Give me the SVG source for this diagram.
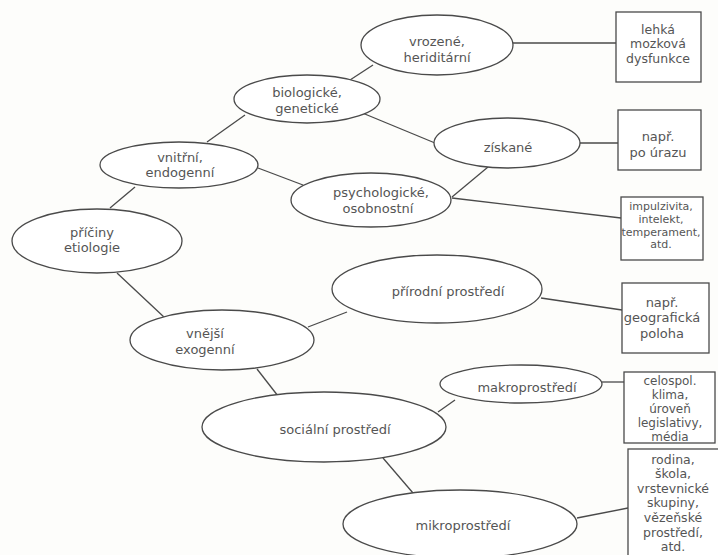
<svg xmlns="http://www.w3.org/2000/svg" width="718" height="555" viewBox="0 0 718 555">
<style>
  .bg { fill: #fdfdfb; }
  .n ellipse, .n rect { fill: #ffffff; stroke: #4a4a4a; stroke-width: 1.3; }
  .c line { stroke: #4a4a4a; stroke-width: 1.3; }
  text { font-family: "DejaVu Sans", "Liberation Sans", sans-serif; fill: #555555; text-anchor: middle; }
  .e { font-size: 13px; }
  .b13 { font-size: 13px; }
  .b125 { font-size: 12.5px; }
  .b12 { font-size: 12px; }
  .s { font-size: 11px; }
</style>
<rect class="bg" x="0" y="0" width="718" height="555"/>
<g id="connectors" class="c">
  <line x1="110" y1="208" x2="135" y2="187"/>
  <line x1="117" y1="273" x2="165" y2="318"/>
  <line x1="207" y1="142" x2="245" y2="115"/>
  <line x1="258" y1="168" x2="303" y2="185"/>
  <line x1="350" y1="80" x2="373" y2="65"/>
  <line x1="360" y1="112" x2="435" y2="143"/>
  <line x1="513" y1="43" x2="616" y2="43"/>
  <line x1="580" y1="143" x2="618" y2="143"/>
  <line x1="452" y1="197" x2="488" y2="167"/>
  <line x1="452" y1="198" x2="621" y2="218"/>
  <line x1="308" y1="327" x2="347" y2="312"/>
  <line x1="257" y1="369" x2="278" y2="396"/>
  <line x1="541" y1="298" x2="622" y2="310"/>
  <line x1="438" y1="412" x2="455" y2="400"/>
  <line x1="602" y1="382" x2="624" y2="382"/>
  <line x1="383" y1="458" x2="413" y2="493"/>
  <line x1="577" y1="518" x2="628" y2="508"/>
</g>
<g id="priciny" class="n">
  <ellipse cx="97" cy="241" rx="85" ry="32"/>
  <text class="e" x="92" y="236.5">příčiny</text>
  <text class="e" x="92" y="252">etiologie</text>
</g>
<g id="vnitrni" class="n">
  <ellipse cx="179" cy="165" rx="79" ry="23"/>
  <text class="e" x="180" y="161.5">vnitřní,</text>
  <text class="e" x="180" y="177">endogenní</text>
</g>
<g id="biologicke" class="n">
  <ellipse cx="307" cy="99" rx="73" ry="24"/>
  <text class="e" x="307" y="97">biologické,</text>
  <text class="e" x="307" y="112.5">genetické</text>
</g>
<g id="vrozene" class="n">
  <ellipse cx="437" cy="45" rx="76" ry="30"/>
  <text class="e" x="437" y="46">vrozené,</text>
  <text class="e" x="437" y="61.5">heriditární</text>
</g>
<g id="ziskane" class="n">
  <ellipse cx="507" cy="143" rx="73" ry="25"/>
  <text class="e" x="508" y="152">získané</text>
</g>
<g id="psychologicke" class="n">
  <ellipse cx="371" cy="200" rx="80" ry="27"/>
  <text class="e" x="381" y="197">psychologické,</text>
  <text class="e" x="378" y="212.5">osobnostní</text>
</g>
<g id="vnejsi" class="n">
  <ellipse cx="222" cy="340" rx="92" ry="30"/>
  <text class="e" x="205" y="338">vnější</text>
  <text class="e" x="205" y="354">exogenní</text>
</g>
<g id="prirodni" class="n">
  <ellipse cx="437" cy="289" rx="105" ry="34"/>
  <text class="e" x="448" y="296">přírodní prostředí</text>
</g>
<g id="socialni" class="n">
  <ellipse cx="324" cy="427" rx="122" ry="35"/>
  <text class="e" x="335" y="434">sociální prostředí</text>
</g>
<g id="makro" class="n">
  <ellipse cx="521" cy="384" rx="81" ry="19"/>
  <text class="e" x="527" y="392">makroprostředí</text>
</g>
<g id="mikro" class="n">
  <ellipse cx="460" cy="524" rx="117" ry="34"/>
  <text class="e" x="463" y="530">mikroprostředí</text>
</g>
<g id="box-lehka" class="n">
  <rect x="616" y="12" width="85" height="70"/>
  <text class="b125" x="658" y="33.6">lehká</text>
  <text class="b125" x="658" y="48.2">mozková</text>
  <text class="b125" x="658" y="62.8">dysfunkce</text>
</g>
<g id="box-uraz" class="n">
  <rect x="618" y="110" width="83" height="60"/>
  <text class="b13" x="658" y="141.3">např.</text>
  <text class="b13" x="658" y="156.8">po úrazu</text>
</g>
<g id="box-impulzivita" class="n">
  <rect x="621" y="197" width="82" height="63"/>
  <text class="s" x="661" y="210">impulzivita,</text>
  <text class="s" x="661" y="222.8">intelekt,</text>
  <text class="s" x="661" y="235.6">temperament,</text>
  <text class="s" x="661" y="248.4">atd.</text>
</g>
<g id="box-geograficka" class="n">
  <rect x="622" y="283" width="87" height="70"/>
  <text class="b13" x="662" y="306.5">např.</text>
  <text class="b13" x="662" y="322">geografická</text>
  <text class="b13" x="662" y="337.5">poloha</text>
</g>
<g id="box-celospol" class="n">
  <rect x="624" y="372" width="91" height="71"/>
  <text class="b12" x="670" y="385.4">celospol.</text>
  <text class="b12" x="670" y="399.4">klima,</text>
  <text class="b12" x="670" y="413.4">úroveň</text>
  <text class="b12" x="670" y="427.4">legislativy,</text>
  <text class="b12" x="670" y="441.4">média</text>
</g>
<g id="box-rodina" class="n">
  <rect x="628" y="449" width="96" height="120"/>
  <text class="b125" x="673" y="463.6">rodina,</text>
  <text class="b125" x="673" y="478.2">škola,</text>
  <text class="b125" x="673" y="492.8">vrstevnické</text>
  <text class="b125" x="673" y="507.4">skupiny,</text>
  <text class="b125" x="673" y="522">vězeňské</text>
  <text class="b125" x="673" y="536.6">prostředí,</text>
  <text class="b125" x="673" y="551.2">atd.</text>
</g>
</svg>
